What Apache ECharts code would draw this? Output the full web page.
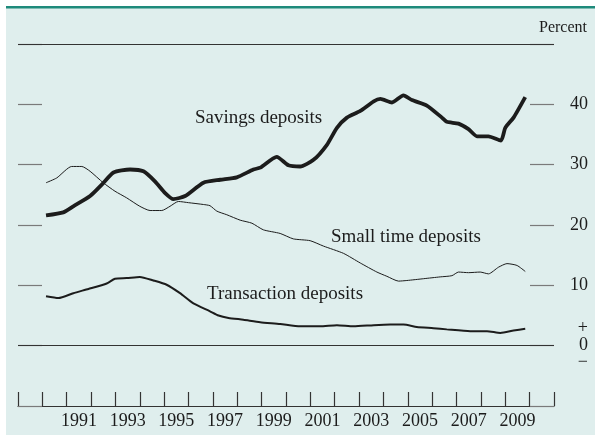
<!DOCTYPE html>
<html>
<head>
<meta charset="utf-8">
<script src="https://cdn.jsdelivr.net/npm/echarts@6/dist/echarts.min.js"></script>
<style>
  html, body { margin: 0; padding: 0; background: #fff; }
  #chart { width: 595px; height: 435px; }
</style>
</head>
<body>
<div id="chart"></div>
<script>
// values, [year, percent]
var savings = [
  [1990.15, 21.6], [1990.86, 22.1], [1991.27, 23.1], [1991.96, 24.8], [1992.44, 26.7],
  [1992.92, 28.7], [1993.6, 29.2], [1994.15, 28.9], [1994.63, 27.2], [1995.04, 25.3],
  [1995.38, 24.3], [1995.86, 24.8], [1996.61, 27.0], [1997.3, 27.5], [1997.98, 27.9],
  [1998.66, 29.2], [1998.94, 29.5], [1999.62, 31.3], [2000.1, 29.9], [2000.58, 29.7],
  [2001.13, 30.8], [2001.68, 33.3], [2002.09, 36.1], [2002.5, 37.8], [2003.05, 38.9],
  [2003.6, 40.5], [2003.87, 40.9], [2004.35, 40.3], [2004.82, 41.5], [2005.17, 40.7],
  [2005.78, 39.8], [2006.4, 37.8], [2006.6, 37.1], [2007.08, 36.8], [2007.49, 35.9],
  [2007.84, 34.7], [2008.31, 34.7], [2008.82, 34.0], [2009.0, 36.1], [2009.34, 37.8],
  [2009.82, 41.2]
];
var smallTime = [
  [1990.15, 27.0], [1990.59, 27.8], [1991.2, 29.7], [1991.62, 29.7], [1991.96, 28.9],
  [1992.5, 27.0], [1992.98, 25.6], [1993.46, 24.5], [1994.0, 23.1], [1994.42, 22.4],
  [1994.9, 22.4], [1995.24, 23.1], [1995.58, 23.9], [1996.0, 23.7], [1996.61, 23.4],
  [1996.88, 23.2], [1997.16, 22.3], [1997.57, 21.7], [1998.12, 20.8], [1998.6, 20.3],
  [1999.07, 19.2], [1999.76, 18.6], [2000.3, 17.7], [2000.99, 17.4], [2001.54, 16.5],
  [2002.36, 15.3], [2003.05, 13.7], [2003.73, 12.2], [2004.14, 11.5], [2004.62, 10.7],
  [2004.96, 10.8], [2005.65, 11.1], [2006.33, 11.4], [2006.81, 11.6], [2007.08, 12.2],
  [2007.49, 12.1], [2007.97, 12.2], [2008.31, 11.9], [2008.72, 13.0], [2009.07, 13.6],
  [2009.48, 13.3], [2009.82, 12.3]
];
var transaction = [
  [1990.15, 8.2], [1990.66, 7.9], [1991.27, 8.7], [1991.89, 9.4], [1992.64, 10.3],
  [1992.98, 11.1], [1993.46, 11.2], [1994.0, 11.4], [1994.56, 10.8], [1995.1, 10.1],
  [1995.65, 8.7], [1996.2, 7.0], [1996.88, 5.7], [1997.23, 5.0], [1997.64, 4.6],
  [1998.25, 4.3], [1998.94, 3.9], [1999.76, 3.6], [2000.58, 3.2], [2001.4, 3.2],
  [2002.09, 3.4], [2002.77, 3.2], [2003.6, 3.4], [2004.28, 3.5], [2004.82, 3.5],
  [2005.37, 3.1], [2006.05, 2.9], [2006.6, 2.7], [2007.56, 2.4], [2008.25, 2.4],
  [2008.8, 2.1], [2009.34, 2.5], [2009.82, 2.8]
];
var tickYears = [1989, 1990, 1991, 1992, 1993, 1994, 1995, 1996, 1997, 1998, 1999,
  2000, 2001, 2002, 2003, 2004, 2005, 2006, 2007, 2008, 2009, 2010, 2011];
var labelYears = [1991, 1993, 1995, 1997, 1999, 2001, 2003, 2005, 2007, 2009];
var rightTicks = [10, 20, 30, 40];

var serif = '"Liberation Serif", "DejaVu Serif", serif';
var ink = '#1c1c1c';

var chart = echarts.init(document.getElementById('chart'));

var yBase = {
  type: 'value',
  min: -10,
  max: 50,
  interval: 10,
  axisLine: { show: false },
  splitLine: { show: false },
  axisTick: { show: true, inside: true, length: 24, lineStyle: { color: '#7a7a7a', width: 1.2 } }
};

chart.setOption({
  animation: false,
  graphic: [
    { type: 'rect', z: -10, shape: { x: 6, y: 6, width: 589, height: 429 }, style: { fill: '#dfeeed' } },
    { type: 'rect', z: -9, shape: { x: 6, y: 6, width: 589, height: 2.5 }, style: { fill: '#1e8a7b' } },
    { type: 'text', right: 8, top: 20,
      style: { text: 'Percent', font: '16px ' + serif, fill: ink } },
    { type: 'text', x: 195, y: 118,
      style: { text: 'Savings deposits', font: '19px ' + serif, fill: ink, verticalAlign: 'middle' } },
    { type: 'text', x: 331, y: 237,
      style: { text: 'Small time deposits', font: '19px ' + serif, fill: ink, verticalAlign: 'middle' } },
    { type: 'text', x: 207, y: 294,
      style: { text: 'Transaction deposits', font: '19px ' + serif, fill: ink, verticalAlign: 'middle' } }
  ],
  grid: { left: 18, right: 41, top: 44, bottom: 29 },
  xAxis: {
    type: 'value',
    min: 1989,
    max: 2011,
    interval: 1,
    splitLine: { show: false },
    axisLine: { onZero: false, lineStyle: { color: '#333', width: 1.2 } },
    axisTick: { inside: true, length: 14, customValues: tickYears, lineStyle: { color: '#333', width: 1.2 } },
    axisLabel: {
      customValues: labelYears.map(function (y) { return y + 0.5; }),
      formatter: function (v) { return String(Math.floor(v)); },
      color: ink,
      fontFamily: serif,
      fontSize: 18,
      margin: 6
    }
  },
  yAxis: [
    Object.assign({}, yBase, { position: 'left', axisLabel: { show: false } }),
    Object.assign({}, yBase, {
      position: 'right',
      axisLabel: {
        align: 'right',
        margin: 34,
        color: ink,
        fontFamily: serif,
        fontSize: 18,
        lineHeight: 17,
        formatter: function (v) {
          if (v === 0) return '+\n0\n\u2212';
          return rightTicks.indexOf(v) >= 0 ? String(v) : '';
        }
      }
    })
  ],
  series: [
    {
      name: 'Savings deposits', type: 'line', data: savings, showSymbol: false, smooth: 0.2,
      lineStyle: { color: ink, width: 3.8 },
      markLine: {
        silent: true, symbol: ['none', 'none'], label: { show: false },
        lineStyle: { color: '#333', width: 1.2, type: 'solid' },
        data: [{ yAxis: 0 }, { yAxis: 50 }]
      }
    },
    {
      name: 'Small time deposits', type: 'line', data: smallTime, showSymbol: false, smooth: 0.2,
      lineStyle: { color: ink, width: 1 }
    },
    {
      name: 'Transaction deposits', type: 'line', data: transaction, showSymbol: false, smooth: 0.2,
      lineStyle: { color: ink, width: 2 }
    }
  ]
});
</script>
</body>
</html>
